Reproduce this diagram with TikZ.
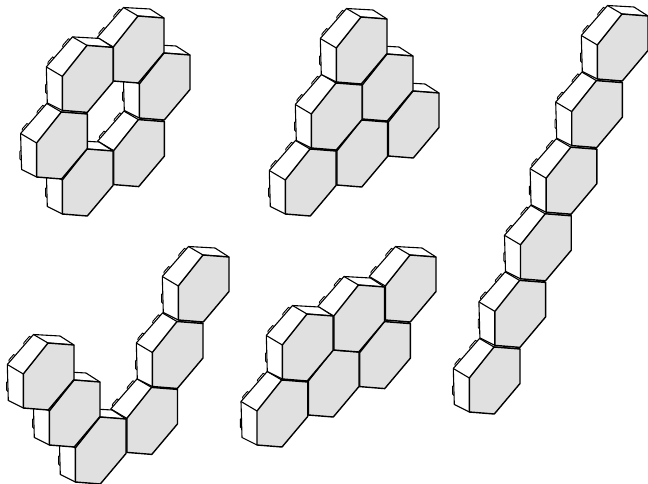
\documentclass[tikz,border=0pt]{standalone}
\usepackage{xcolor}
\definecolor{HEX_FACE}{HTML}{e0e0e0}
\tikzset{
  side/.style={draw=black, fill=white, line width=1.1pt, line join=round},
  face/.style={draw=black, fill=HEX_FACE, line width=1.4pt, line join=round},
  lump/.style={draw=black, line width=0.9pt},
  hexcell/.pic={
    \draw[lump] (-16.8,-5.8) -- (-18.6,-6.6) -- (-24,-0.4) -- (-24.4,1.4);
    \draw[lump] (-32.6,12.4) -- (-34.4,11.6) -- (-38.8,16.6) -- (-39.2,18.4);
    \draw[lump] (-40.1,38) -- (-41.4,39.5) -- (-41.4,47) -- (-39.9,48.5);
    \path[side] (-24.7,65) -- (-39.7,57.5) -- (-40.7,21.5) -- (-14.5,-8.5)
      -- (12,-7) -- (26,2) -- (0,0) -- cycle;
    \path[side] (-24.7,31) -- (-40.7,21.5);
    \path[side] (0,0) -- (-14.5,-8.5);
    \path[face] (0,0) -- (26,2) -- (26,36.5) -- (0.3,67)
      -- (-24.7,65) -- (-24.7,31) -- cycle;
  },
}
\begin{document}
\begin{tikzpicture}[x=1pt, y=-1pt]

  \useasboundingbox (0,0) rectangle (648,484);

  % ring
  \foreach \px/\py in {138.4/119.6, 87/149, 61.3/112, 164/53, 138/16, 87/45.4}
    \pic at (\px,\py) {hexcell};

  % triangle
  \foreach \px/\py in {413/91, 361.5/120, 387/54, 310/149, 336/83, 361/17}
    \pic at (\px,\py) {hexcell};

  % long chain
  \foreach \px/\py in {494/347, 519.6/280.4, 545.2/213.8, 570.8/147.2, 596.4/80.6, 622/14}
    \pic at (\px,\py) {hexcell};

  % two rows
  \foreach \px/\py in {384.4/321.6, 410/255, 333/350, 358.5/285, 281.7/380, 307/314}
    \pic at (\px,\py) {hexcell};

  % bent chain
  \foreach \px/\py in {151.5/387.4, 100/417, 177/321.5, 203/255, 74/380, 48/343}
    \pic at (\px,\py) {hexcell};

\end{tikzpicture}
\end{document}
